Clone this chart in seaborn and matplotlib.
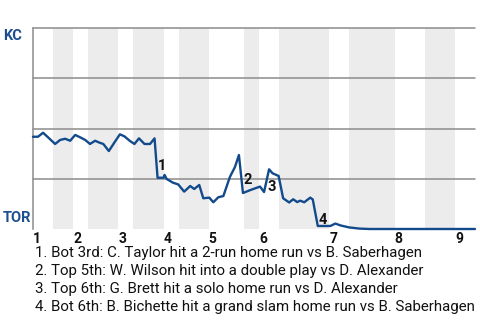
import matplotlib
matplotlib.use("Agg")
import matplotlib.pyplot as plt
import seaborn as sns
import pandas as pd

# ---- data ----
# game progress (plate-appearance index) and KC win probability
progress = [0, 1, 2, 3, 4.4, 5.4, 6.4, 7.4, 8.4, 9.4, 10.4, 11.35, 12.35, 13.3, 14, 15.1,
            16.3, 17.3, 18.2, 19.3, 20.2, 21.1, 22.2, 23.3, 24.2, 24.8, 26, 26.2, 26.6,
            27.9, 28.9, 30.1, 31.3, 32.1, 33.1, 33.9, 35.1, 35.9, 36.9, 37.9, 39.2, 40.2,
            41.0, 41.8, 43.3, 45.2, 46, 47, 47.7, 48.9, 49.8, 51, 51.8, 52.6, 53.2, 54,
            55.2, 55.7, 56.7, 59.2, 60.2, 61.2, 62.9, 65, 67, 88]
kc_win_prob = [0.459, 0.459, 0.479, 0.456, 0.423, 0.443, 0.449, 0.439, 0.468, 0.456, 0.443,
               0.423, 0.439, 0.429, 0.423, 0.388, 0.434, 0.471, 0.461, 0.438, 0.423, 0.451,
               0.423, 0.423, 0.451, 0.255, 0.255, 0.269, 0.249, 0.230, 0.222, 0.186, 0.214,
               0.199, 0.219, 0.153, 0.156, 0.133, 0.158, 0.164, 0.259, 0.308, 0.368, 0.179,
               0.194, 0.211, 0.184, 0.297, 0.277, 0.264, 0.153, 0.132, 0.148, 0.134, 0.141,
               0.133, 0.156, 0.147, 0.015, 0.015, 0.027, 0.018, 0.008, 0.002, 0.0, 0.0]

# half-inning boundaries in game progress units
half_inning_starts = [0, 4, 8, 11, 17, 20, 26, 29, 35, 42, 45, 49, 59, 63, 72, 78, 84, 88]
inning_labels = ["1", "2", "3", "4", "5", "6", "7", "8", "9"]

# key events: index into the series, label, description
event_index = [25, 43, 47, 58]
event_labels = ["1", "2", "3", "4"]
event_text = [
    "1. Bot 3rd: C. Taylor hit a 2-run home run vs B. Saberhagen",
    "2. Top 5th: W. Wilson hit into a double play vs D. Alexander",
    "3. Top 6th: G. Brett hit a solo home run vs D. Alexander",
    "4. Bot 6th: B. Bichette hit a grand slam home run vs B. Saberhagen",
]
teams = ["KC", "TOR"]

# ---- styling ----
sns.set_style("white")
plt.rcParams["font.family"] = ["Roboto", "DejaVu Sans"]

BLUE = "#124a8c"
TEAM_BLUE = "#1d4f8f"
BAND = "#ececec"
GRID = "#8c8c8c"

fig = plt.figure(figsize=(4.8, 3.2), dpi=100)
ax = fig.add_axes([33 / 480, 1 - 229 / 320, 442 / 480, 201 / 320])

# alternating half-inning bands (bottom halves shaded)
for k in range(1, len(half_inning_starts) - 1, 2):
    ax.axvspan(half_inning_starts[k], half_inning_starts[k + 1], color=BAND, lw=0, zorder=0)

# horizontal gridlines
for g in [0.25, 0.5, 0.75, 1.0]:
    ax.axhline(g, color=GRID, lw=1.1, zorder=1, clip_on=False)

df = pd.DataFrame({"progress": progress, "prob": kc_win_prob})
sns.lineplot(data=df, x="progress", y="prob", ax=ax, color=BLUE, lw=1.7,
             zorder=3, clip_on=False)

ax.set_xlim(half_inning_starts[0], half_inning_starts[-1])
ax.set_ylim(0, 1)
ax.set_xlabel("")
ax.set_ylabel("")
ax.set_yticks([])

# inning tick labels at the start of each inning (top halves)
inning_pos = half_inning_starts[0:-1:2]
ax.set_xticks(inning_pos)
ax.set_xticklabels(inning_labels, fontsize=10, fontweight="bold", ha="left", color="#111111")
ax.tick_params(axis="x", length=0, pad=2)

for s in ["top", "right", "bottom"]:
    ax.spines[s].set_visible(False)
ax.spines["left"].set_color(GRID)
ax.spines["left"].set_linewidth(1.1)

# team labels
fig.text(3 / 480, 1 - 29 / 320, teams[0], fontsize=10.5, fontweight="bold",
         color=TEAM_BLUE, ha="left", va="top")
fig.text(3 / 480, 1 - 225 / 320, teams[1], fontsize=10.5, fontweight="bold",
         color=TEAM_BLUE, ha="left", va="bottom")

# event markers
offsets = [(4.8, -12.2), (4.8, -13), (3, 18), (5, -6)]  # pixels (x right, y down)
for idx, lab, (dx, dy) in zip(event_index, event_labels, offsets):
    ax.annotate(lab, (progress[idx], kc_win_prob[idx]), xytext=(dx * 0.72, -dy * 0.72),
                textcoords="offset points", ha="center", va="center",
                fontsize=10.5, fontweight="bold", color="#111111", zorder=4)

# footnotes
for i, t in enumerate(event_text):
    fig.text(35 / 480, 1 - (253 + 18 * i) / 320, t, fontsize=10.8, color="#111111",
             ha="left", va="center")

fig.savefig("out.png", dpi=100)
